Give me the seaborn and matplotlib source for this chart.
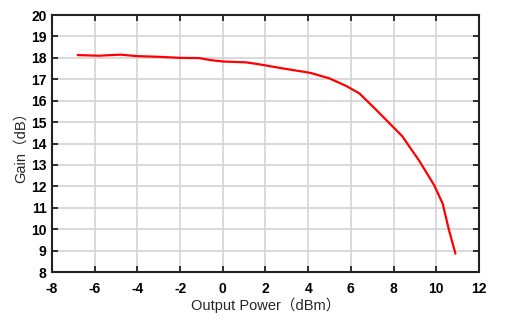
import matplotlib
matplotlib.use("Agg")
import matplotlib.pyplot as plt
import seaborn as sns
import pandas as pd

output_power = [-6.8, -5.8, -4.8, -4.0, -3.0, -2.0, -1.1, -0.6, 0.0, 1.1, 1.7, 2.8,
                4.1, 5.0, 5.8, 6.4, 7.2, 8.4, 9.2, 9.9, 10.3, 10.6, 10.9]
gain = [18.13, 18.10, 18.15, 18.08, 18.05, 18.00, 17.99, 17.90, 17.83, 17.79, 17.70, 17.51,
        17.30, 17.04, 16.68, 16.34, 15.56, 14.35, 13.20, 12.06, 11.20, 9.95, 8.86]
x_ticks = list(range(-8, 13, 2))
y_ticks = list(range(8, 21, 1))

sns.set_theme(style="white")
plt.rcParams['font.family'] = ['Liberation Sans', 'Noto Sans CJK SC', 'DejaVu Sans']

df = pd.DataFrame({"x": output_power, "y": gain})

fig = plt.figure(figsize=(5.07, 3.2), dpi=100)
ax = fig.add_axes([0.1026, 0.15, 0.842, 0.803])
sns.lineplot(data=df, x="x", y="y", ax=ax, color="#ff0000", linewidth=1.6, sort=False)

ax.set_xlim(-8, 12)
ax.set_ylim(8, 20)
ax.set_xticks(x_ticks)
ax.set_yticks(y_ticks)
ax.set_xticklabels([str(t) for t in x_ticks], fontsize=10, fontweight='bold')
ax.set_yticklabels([str(t) for t in y_ticks], fontsize=10, fontweight='bold')
ax.grid(True, color="#d3d3d3", linewidth=1.2)
ax.tick_params(direction='in', length=4, width=1.3, top=True, right=True,
               bottom=True, left=True, colors='#222222')
ax.tick_params(axis='x', labelcolor='black', pad=7)
ax.tick_params(axis='y', labelcolor='black', pad=4)
for s in ax.spines.values():
    s.set_color('#222222')
    s.set_linewidth(1.5)
ax.set_xlabel("Output Power（dBm）", fontsize=10.5, labelpad=1)
ax.set_ylabel("Gain（dB）", fontsize=10.5, labelpad=2)

fig.savefig("out.png", dpi=100)
